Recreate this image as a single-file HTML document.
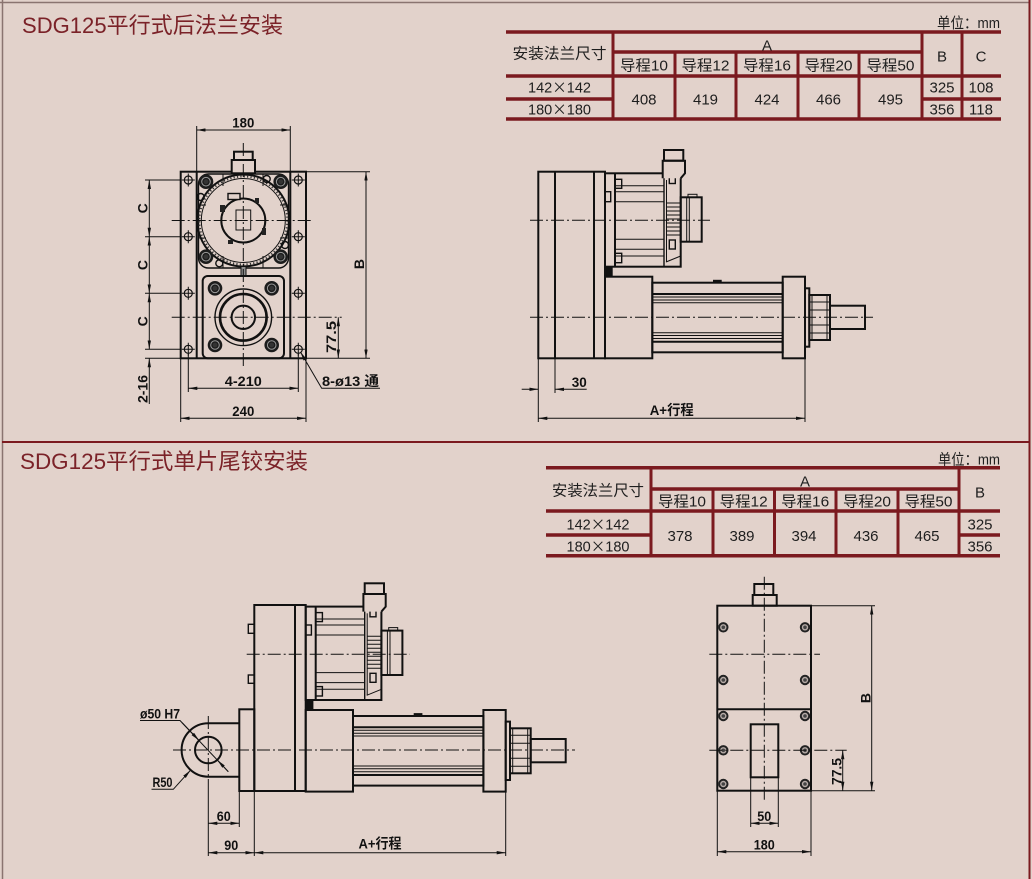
<!DOCTYPE html>
<html><head><meta charset="utf-8">
<style>
html,body{margin:0;padding:0;background:#e2d2cb;width:1032px;height:879px;overflow:hidden}
svg{display:block}
.k{stroke:#111;fill:none;stroke-width:2}
.m{stroke:#111;fill:none;stroke-width:1.4}
.t{stroke:#111;fill:none;stroke-width:1}
.c{stroke:#111;fill:none;stroke-width:1;stroke-dasharray:13 3 2 3}
.dm{stroke:#111;fill:none;stroke-width:1;marker-start:url(#a);marker-end:url(#a)}
.ae{stroke:#111;fill:none;stroke-width:1;marker-end:url(#a)}
.as{stroke:#111;fill:none;stroke-width:1;marker-start:url(#a)}
.th{stroke:#7b1a1f;stroke-width:3.5;fill:none}
.tv{stroke:#7b1a1f;stroke-width:3;fill:none}
.tx{font-family:"Liberation Sans","Noto Sans CJK SC",sans-serif;font-size:15px;fill:#1e1e1e}
.dt{font-family:"Liberation Sans","Noto Sans CJK SC",sans-serif;font-weight:bold;font-size:14px;fill:#111}
.ti{font-family:"Liberation Sans","Noto Sans CJK SC",sans-serif;font-size:22px;fill:#7b2228}
</style></head>
<body>
<svg width="1032" height="879" viewBox="0 0 1032 879" xmlns="http://www.w3.org/2000/svg">
<defs>
<marker id="a" viewBox="0 0 9 3.4" refX="9" refY="1.7" markerWidth="9" markerHeight="3.4" markerUnits="userSpaceOnUse" orient="auto-start-reverse"><path d="M0,0L9,1.7L0,3.4z" fill="#111"/></marker>
<g id="bolt"><circle r="7.3" fill="#1c1c1c"/><circle r="4.3" fill="none" stroke="#9a9a9a" stroke-width="1"/><circle r="2.4" fill="#333"/></g>
<g id="hole"><circle r="4" fill="none" stroke="#111" stroke-width="1.2"/><path d="M-6.5,0H6.5M0,-6.5V6.5" stroke="#111" stroke-width="1"/></g>
<g id="ring"><circle r="4.2" fill="#b5aaa6" stroke="#222" stroke-width="2"/><circle r="1.8" fill="#444"/></g>
<g id="act">
  <rect x="605" y="173.3" width="75.7" height="93.4" class="k"/>
  <line x1="615" y1="173.3" x2="615" y2="266.7" class="k"/>
  <line x1="664" y1="173.3" x2="664" y2="266.7" class="m"/>
  <line x1="666.5" y1="180" x2="666.5" y2="262" class="t"/>
  <path d="M615,185.7H664M615,191.7H664M615,201.7H664M615,239.3H664M615,249.3H664M615,256H664" class="t"/>
  <rect x="615" y="179.3" width="6.7" height="9" class="m"/>
  <rect x="615" y="253.3" width="6.7" height="9.4" class="m"/>
  <rect x="669.3" y="174.5" width="6" height="9" class="m"/>
  <rect x="669.3" y="240" width="6" height="9" class="m"/>
  <path d="M666.5,203H680.7M666.5,207H680.7M666.5,211H680.7M666.5,215H680.7M666.5,219H680.7M666.5,223H680.7M666.5,227H680.7M666.5,231H680.7M666.5,235H680.7" class="t"/>
  <path d="M666,262L680.7,256" class="t"/>
  <path d="M662.7,178.3V160.7H685V173.3L680.7,178.3" class="k" style="fill:#e2d2cb"/>
  <rect x="664" y="150" width="19.3" height="10.7" class="k"/>
  <rect x="680.7" y="197.3" width="21" height="44.4" class="k"/>
  <path d="M686.7,197.3V241.7M689.3,197.3V241.7" class="t"/>
  <rect x="688" y="194.3" width="9" height="3" class="t"/>
  <rect x="605" y="191.7" width="5.7" height="10" class="m"/>
  <rect x="605" y="267.3" width="7.7" height="9.4" fill="#111"/>
  <rect x="605" y="276.7" width="47.3" height="81.6" class="k"/>
  <rect x="652.3" y="282.7" width="130.4" height="69.6" class="k"/>
  <path d="M652.3,294H782.7M652.3,341.7H782.7" class="k"/>
  <path d="M652.3,297H782.7M652.3,300H782.7M652.3,302.7H782.7M652.3,332.7H782.7M652.3,335.5H782.7M652.3,338.5H782.7" class="t"/>
  <rect x="713" y="279.8" width="8.7" height="2.9" fill="#111"/>
  <rect x="782.7" y="276.7" width="22.3" height="81.6" class="k"/>
  <rect x="805" y="288.3" width="4.3" height="58.4" class="k"/>
  <rect x="809.3" y="295" width="20.7" height="45" class="k"/>
  <path d="M812,295V340M827,295V340M809.3,302H830M809.3,310H830M809.3,325H830M809.3,333H830" class="t"/>
  <rect x="830" y="305.7" width="35" height="23.3" class="k"/>
</g>
</defs>

<!-- ================= TOP SECTION ================= -->
<text class="ti" x="22" y="33" textLength="261" lengthAdjust="spacingAndGlyphs">SDG125平行式后法兰安装</text>

<g>
<line class="th" x1="506" y1="32" x2="1001" y2="32"/>
<line class="th" x1="613" y1="52" x2="922" y2="52"/>
<line class="th" x1="506" y1="76" x2="1001" y2="76"/>
<line class="th" x1="506" y1="99" x2="613" y2="99"/>
<line class="th" x1="922" y1="99" x2="1001" y2="99"/>
<line class="th" x1="506" y1="119" x2="1001" y2="119"/>
<line class="tv" x1="613" y1="32" x2="613" y2="119"/>
<line class="tv" x1="675" y1="52" x2="675" y2="119"/>
<line class="tv" x1="736" y1="52" x2="736" y2="119"/>
<line class="tv" x1="798" y1="52" x2="798" y2="119"/>
<line class="tv" x1="859" y1="52" x2="859" y2="119"/>
<line class="tv" x1="922" y1="32" x2="922" y2="119"/>
<line class="tv" x1="962" y1="32" x2="962" y2="119"/>
</g>
<text class="tx" x="937" y="28" font-size="14" textLength="63" lengthAdjust="spacingAndGlyphs">单位：mm</text>
<g class="tx" text-anchor="middle">
<text x="559.5" y="58.5" textLength="94" lengthAdjust="spacingAndGlyphs">安装法兰尺寸</text>
<text x="767" y="50.5">A</text>
<text x="942" y="61.5">B</text>
<text x="981" y="61.5">C</text>
<text x="644" y="70.5" textLength="48" lengthAdjust="spacingAndGlyphs">导程10</text>
<text x="705.5" y="70.5" textLength="48" lengthAdjust="spacingAndGlyphs">导程12</text>
<text x="767" y="70.5" textLength="48" lengthAdjust="spacingAndGlyphs">导程16</text>
<text x="828.5" y="70.5" textLength="48" lengthAdjust="spacingAndGlyphs">导程20</text>
<text x="890.5" y="70.5" textLength="48" lengthAdjust="spacingAndGlyphs">导程50</text>
<text x="559.5" y="92.5" textLength="63" lengthAdjust="spacingAndGlyphs">142<tspan font-family="Noto Sans CJK SC, sans-serif">×</tspan>142</text>
<text x="559.5" y="114.5" textLength="63" lengthAdjust="spacingAndGlyphs">180<tspan font-family="Noto Sans CJK SC, sans-serif">×</tspan>180</text>
<text x="644" y="104.5">408</text>
<text x="705.5" y="104.5">419</text>
<text x="767" y="104.5">424</text>
<text x="828.5" y="104.5">466</text>
<text x="890.5" y="104.5">495</text>
<text x="942" y="92.5">325</text>
<text x="942" y="114.5">356</text>
<text x="981" y="92.5">108</text>
<text x="981" y="114.5">118</text>
</g>

<!-- front view (top-left) -->
<g>
<rect x="180.7" y="171.7" width="125.3" height="186.6" class="k"/>
<line x1="196.7" y1="171.7" x2="196.7" y2="358.3" class="k"/>
<line x1="290.3" y1="171.7" x2="290.3" y2="358.3" class="k"/>
<rect x="198.5" y="174" width="90" height="94" rx="10" class="m"/>
<path d="M223,174V186M263,174V186M198.5,205H206M280,205H288.5M198.5,238H206M280,238H288.5M223,256V268M263,256V268" class="t"/>
<circle cx="243.3" cy="220.5" r="46" class="k"/>
<circle cx="243.3" cy="220.5" r="44" fill="none" stroke="#333" stroke-width="2" stroke-dasharray="1.2 2.2"/>
<circle cx="243.3" cy="220.5" r="42" class="t"/>
<use href="#bolt" x="206" y="181.7"/><use href="#bolt" x="280.7" y="181.7"/>
<use href="#bolt" x="206" y="256.7"/><use href="#bolt" x="280.7" y="256.7"/>
<circle cx="266.7" cy="179" r="3.5" class="m"/><circle cx="200.7" cy="197" r="3.5" class="m"/>
<circle cx="285" cy="245" r="3.5" class="m"/><circle cx="219.3" cy="263.3" r="3.5" class="m"/>
<circle cx="243.3" cy="220.5" r="22" class="k"/>
<rect x="236" y="210" width="14.7" height="20" class="t"/>
<rect x="228" y="193.5" width="12" height="6" class="m" style="fill:#e2d2cb"/>
<rect x="220" y="205" width="5" height="7" fill="#222"/>
<rect x="255" y="198" width="4" height="5" fill="#222"/>
<rect x="228" y="240" width="5" height="4" fill="#222"/>
<rect x="262" y="228" width="4" height="7" fill="#222"/>
<rect x="231.7" y="160" width="23.3" height="13.3" class="k" style="fill:#e2d2cb"/>
<rect x="234" y="151.7" width="18.7" height="8.3" class="k"/>
<rect x="241" y="266.5" width="5" height="10" fill="#8c8c8c" stroke="#111" stroke-width="1"/>
<rect x="202.7" y="276" width="81.3" height="82.3" rx="5" class="k"/>
<circle cx="243.3" cy="317.3" r="28.3" class="m"/>
<circle cx="243.3" cy="317.3" r="23.3" fill="none" stroke="#111" stroke-width="2.6"/>
<circle cx="243.3" cy="317.3" r="11.7" class="k"/>
<use href="#bolt" x="215" y="288.3"/><use href="#bolt" x="271.7" y="288.3"/>
<use href="#bolt" x="215" y="345"/><use href="#bolt" x="271.7" y="345"/>
<use href="#hole" x="188.3" y="180"/><use href="#hole" x="298.3" y="180"/>
<use href="#hole" x="188.3" y="236.7"/><use href="#hole" x="298.3" y="236.7"/>
<use href="#hole" x="188.3" y="293.3"/><use href="#hole" x="298.3" y="293.3"/>
<use href="#hole" x="188.3" y="349.3"/><use href="#hole" x="298.3" y="349.3"/>
<path class="c" d="M243.3,143V367M171.7,220.5H313M171.7,317.3H341.7"/>
<path class="t" d="M196.7,126V171.7M290.3,126V171.7M306,171.7H370M306,358.3H370M145,180H180.7M145,236.7H180.7M145,293.3H180.7M145,349.3H180.7M145,358.3H180.7M188.3,354V392M298.3,354V392M180.7,358.3V422M306,358.3V422"/>
<path class="dm" d="M196.7,130H290.3"/>
<path class="dm" d="M366,171.7V358.3"/>
<path class="dm" d="M338.3,317.3V358.3"/>
<path class="dm" d="M149.3,180V236.7"/>
<path class="dm" d="M149.3,236.7V293.3"/>
<path class="dm" d="M149.3,293.3V349.3"/>
<path class="as" d="M149.3,358.3V404"/>
<path class="dm" d="M188.3,388.3H298.3"/>
<path class="dm" d="M180.7,418.3H306"/>
<path class="as" d="M300.5,352L321.7,388.3H380"/>
<g class="dt" text-anchor="middle">
<text x="243.3" y="127.5" textLength="22" lengthAdjust="spacingAndGlyphs">180</text>
<text x="243.3" y="385.8" textLength="37" lengthAdjust="spacingAndGlyphs">4-210</text>
<text x="243.3" y="415.8" textLength="22" lengthAdjust="spacingAndGlyphs">240</text>
<text transform="translate(359,264) rotate(-90)" y="5">B</text>
<text transform="translate(331,337) rotate(-90)" y="5" textLength="32" lengthAdjust="spacingAndGlyphs">77.5</text>
<text transform="translate(142.5,208.3) rotate(-90)" y="5">C</text>
<text transform="translate(142.5,265) rotate(-90)" y="5">C</text>
<text transform="translate(142.5,321.3) rotate(-90)" y="5">C</text>
<text transform="translate(142.5,389) rotate(-90)" y="5" textLength="28" lengthAdjust="spacingAndGlyphs">2-16</text>
</g>
<text class="dt" x="322" y="386" textLength="57" lengthAdjust="spacingAndGlyphs">8-ø13 通</text>
</g>

<!-- side view (top-right) -->
<g>
<rect x="538.3" y="171.7" width="66.7" height="186.6" class="k"/>
<line x1="555" y1="171.7" x2="555" y2="358.3" class="k"/>
<line x1="594" y1="171.7" x2="594" y2="358.3" class="k"/>
<use href="#act"/>
<path class="c" d="M530,220.3H710M530,317.3H873"/>
<path class="t" d="M538.3,358.3V422M555,358.3V393M805,358.3V422"/>
<path class="ae" d="M521.7,389.3H538.3"/>
<path class="as" d="M555,389.3H586.7"/>
<path class="dm" d="M538.3,418.3H805"/>
<g class="dt" text-anchor="middle">
<text x="579.3" y="387" textLength="15" lengthAdjust="spacingAndGlyphs">30</text>
<text x="671.7" y="415" textLength="44" lengthAdjust="spacingAndGlyphs">A+行程</text>
</g>
</g>

<!-- ================= BOTTOM SECTION ================= -->
<text class="ti" x="20" y="469" textLength="288" lengthAdjust="spacingAndGlyphs">SDG125平行式单片尾铰安装</text>

<g>
<line class="th" x1="546" y1="467.7" x2="1000" y2="467.7"/>
<line class="th" x1="651" y1="489" x2="959" y2="489"/>
<line class="th" x1="546" y1="511" x2="1000" y2="511"/>
<line class="th" x1="546" y1="535" x2="651" y2="535"/>
<line class="th" x1="959" y1="535" x2="1000" y2="535"/>
<line class="th" x1="546" y1="555.7" x2="1000" y2="555.7"/>
<line class="tv" x1="651" y1="467.7" x2="651" y2="555.7"/>
<line class="tv" x1="713" y1="489" x2="713" y2="555.7"/>
<line class="tv" x1="774.5" y1="489" x2="774.5" y2="555.7"/>
<line class="tv" x1="836" y1="489" x2="836" y2="555.7"/>
<line class="tv" x1="898" y1="489" x2="898" y2="555.7"/>
<line class="tv" x1="959" y1="467.7" x2="959" y2="555.7"/>
</g>
<text class="tx" x="938" y="464.5" font-size="14" textLength="62" lengthAdjust="spacingAndGlyphs">单位：mm</text>
<g class="tx" text-anchor="middle">
<text x="598" y="495.5" textLength="92" lengthAdjust="spacingAndGlyphs">安装法兰尺寸</text>
<text x="805" y="486.5">A</text>
<text x="980" y="497.5">B</text>
<text x="682" y="506.5" textLength="48" lengthAdjust="spacingAndGlyphs">导程10</text>
<text x="743.7" y="506.5" textLength="48" lengthAdjust="spacingAndGlyphs">导程12</text>
<text x="805.2" y="506.5" textLength="48" lengthAdjust="spacingAndGlyphs">导程16</text>
<text x="867" y="506.5" textLength="48" lengthAdjust="spacingAndGlyphs">导程20</text>
<text x="928.5" y="506.5" textLength="48" lengthAdjust="spacingAndGlyphs">导程50</text>
<text x="598" y="529.5" textLength="63" lengthAdjust="spacingAndGlyphs">142<tspan font-family="Noto Sans CJK SC, sans-serif">×</tspan>142</text>
<text x="598" y="551.5" textLength="63" lengthAdjust="spacingAndGlyphs">180<tspan font-family="Noto Sans CJK SC, sans-serif">×</tspan>180</text>
<text x="680" y="541">378</text>
<text x="742" y="541">389</text>
<text x="804" y="541">394</text>
<text x="866" y="541">436</text>
<text x="927" y="541">465</text>
<text x="980" y="529.5">325</text>
<text x="980" y="551.5">356</text>
</g>

<!-- bottom-left side view -->
<g>
<rect x="254.3" y="605" width="51.4" height="186" class="k"/>
<line x1="295" y1="605" x2="295" y2="791" class="k"/>
<rect x="248.3" y="624.3" width="6" height="9" class="m"/>
<rect x="248.3" y="675" width="6" height="8.3" class="m"/>
<rect x="239.3" y="709.3" width="15" height="81.7" class="k"/>
<path class="k" d="M239.3,723.3H208.3A26.7,26.7 0 0 0 208.3,776.7H239.3"/>
<circle cx="208.3" cy="750" r="13.3" class="k"/>
<use href="#act" transform="translate(-299.3,433.3)"/>
<path class="c" d="M246.7,654.3H410M173,750H575M208.3,716V785"/>
<path class="t" d="M208.3,785V856M239.3,791V827M254.3,791V856M505.7,791V856"/>
<path class="dm" d="M208.3,823.3H239.3"/>
<path class="dm" d="M208.3,852.7H254.3"/>
<path class="dm" d="M254.3,852.7H505.7"/>
<path class="t" d="M140,720.5H180L228.3,771.7"/>
<path class="ae" d="M182,722.6L199,740.4"/>
<path class="ae" d="M228.3,771.7L217.5,760.2"/>
<path class="ae" d="M151.5,789.3H173.3L190.5,770.2"/>
<text class="dt" x="140" y="718.5" textLength="40" lengthAdjust="spacingAndGlyphs">ø50 H7</text>
<text class="dt" x="152.5" y="787" textLength="20" lengthAdjust="spacingAndGlyphs">R50</text>
<g class="dt" text-anchor="middle">
<text x="223.8" y="820.8" textLength="14" lengthAdjust="spacingAndGlyphs">60</text>
<text x="231.3" y="849.8" textLength="14" lengthAdjust="spacingAndGlyphs">90</text>
<text x="380" y="848.5" textLength="43" lengthAdjust="spacingAndGlyphs">A+行程</text>
</g>
</g>

<!-- bottom-right end view -->
<g>
<rect x="717.3" y="605.7" width="93.7" height="185" class="k"/>
<line x1="717.3" y1="709.3" x2="811" y2="709.3" class="k"/>
<rect x="752.7" y="595" width="24" height="10.7" class="k"/>
<rect x="754.3" y="584" width="19" height="11" class="k"/>
<rect x="750.7" y="724.3" width="27.6" height="53" class="k"/>
<use href="#ring" x="723.3" y="627.3"/><use href="#ring" x="805" y="627.3"/>
<use href="#ring" x="723.3" y="680"/><use href="#ring" x="805" y="680"/>
<use href="#ring" x="723.3" y="716"/><use href="#ring" x="805" y="716"/>
<use href="#ring" x="723.3" y="750.3"/><use href="#ring" x="805" y="750.3"/>
<use href="#ring" x="723.3" y="784"/><use href="#ring" x="805" y="784"/>
<path class="c" d="M764.3,576.7V800M709.3,654.3H820M709.3,750.3H846.7"/>
<path class="t" d="M717.3,790.7V856M811,790.7V856M750.7,777.3V827M778.3,777.3V827M811,605.7H875M811,790.7H875"/>
<path class="dm" d="M871.7,605.7V790.7"/>
<path class="dm" d="M842.7,750.3V790.7"/>
<path class="dm" d="M750.7,823.3H778.3"/>
<path class="dm" d="M717.3,851.7H811"/>
<g class="dt" text-anchor="middle">
<text transform="translate(865.5,698) rotate(-90)" y="5">B</text>
<text transform="translate(836.5,771.5) rotate(-90)" y="5" textLength="27" lengthAdjust="spacingAndGlyphs">77.5</text>
<text x="764.3" y="820.8" textLength="14" lengthAdjust="spacingAndGlyphs">50</text>
<text x="764.3" y="849.5" textLength="21" lengthAdjust="spacingAndGlyphs">180</text>
</g>
</g>

<!-- frame / separator -->
<line x1="2.5" y1="0" x2="2.5" y2="879" stroke="#8a7470" stroke-width="1.5"/>
<line x1="0" y1="2.5" x2="1030" y2="2.5" stroke="#8a7470" stroke-width="1.5"/>
<line x1="1029.5" y1="0" x2="1029.5" y2="879" stroke="#7b1a1f" stroke-width="2"/>
<line x1="2" y1="442" x2="1030" y2="442" stroke="#7b1a1f" stroke-width="2"/>
</svg>
</body></html>
